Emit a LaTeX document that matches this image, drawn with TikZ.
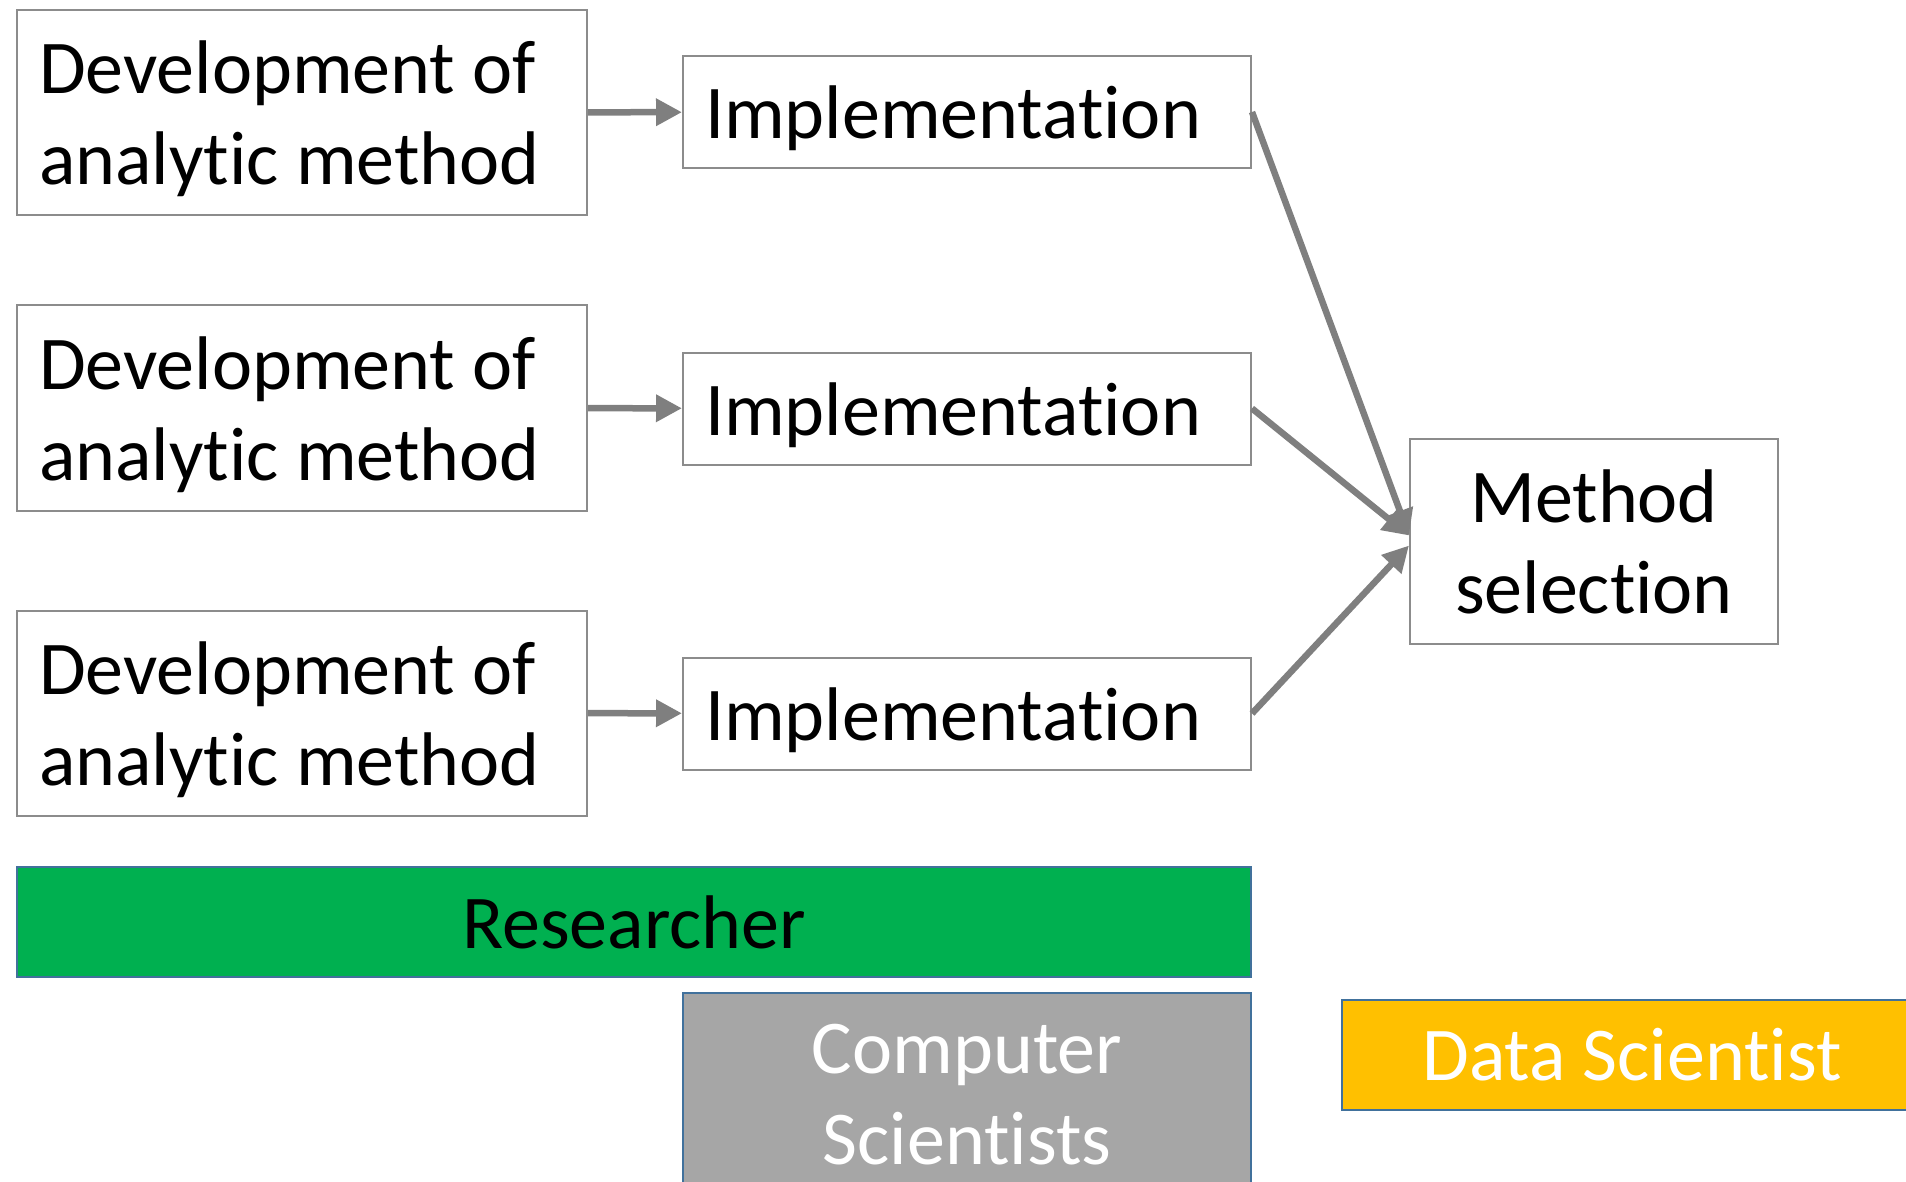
\documentclass[tikz,border=0pt]{standalone}
\usepackage{fontspec}
\setmainfont{Carlito}[Ligatures=NoCommon]
\usetikzlibrary{arrows.meta}

\definecolor{arrowgray}{HTML}{7F7F7F}
\definecolor{boxgray}{HTML}{8C8C8C}
\definecolor{roleblue}{HTML}{41719C}
\definecolor{resgreen}{HTML}{00B050}
\definecolor{csgray}{HTML}{A6A6A6}
\definecolor{dsyellow}{HTML}{FFC000}

\newcommand{\topstrut}{\rule{0pt}{66pt}}

\tikzset{
  flow/.style={draw=arrowgray,line width=6.5pt,-{Triangle[length=26pt,width=26pt]}},
  stepbox/.style={text width=#1,inner xsep=22pt,align=flush left,execute at begin node=\topstrut}
}

\begin{document}
\begin{tikzpicture}[x=1pt,y=-1pt]
\useasboundingbox (0,0) rectangle (1906,1182);
\clip (0,0) rectangle (1906,1182);

\begin{scope}[every node/.style={draw=boxgray,line width=2pt,inner ysep=0pt,font=\fontsize{76}{91}\selectfont}]
\node[stepbox=526pt,minimum height=205] (dev1) at (302,112.5) {Development of\\analytic method};
\node[stepbox=526pt,minimum height=205] (dev2) at (302,408) {Development of\\analytic method};
\node[stepbox=526pt,minimum height=205] (dev3) at (302,713) {Development of\\analytic method};
\node[stepbox=524pt,minimum height=112] (impl1) at (967,112) {Implementation};
\node[stepbox=524pt,minimum height=112] (impl2) at (967,408.5) {Implementation};
\node[stepbox=524pt,minimum height=112] (impl3) at (967,713.5) {Implementation};
\node[minimum width=368,minimum height=205,align=center] (select) at (1594,541.5) {Method\\selection};
\end{scope}

\begin{scope}[every node/.style={draw=roleblue,line width=2.5pt,inner sep=0pt,font=\fontsize{76}{91}\selectfont,align=center}]
\node[fill=resgreen,minimum width=1234,minimum height=110] (res) at (634,922) {Researcher};
\node[fill=csgray,text=white,minimum width=568,minimum height=204] (cs) at (967,1095) {Computer\\Scientists};
\node[fill=dsyellow,text=white,minimum width=580,minimum height=110] (ds) at (1632,1055) {Data Scientist};
\end{scope}

\path
(dev1) edge[flow] (impl1)
(dev2) edge[flow] (impl2)
(dev3) edge[flow] (impl3)
(impl1.east) edge[flow] ([yshift=6pt]select.west)
(impl2.east) edge[flow] ([yshift=6pt]select.west)
(impl3.east) edge[flow] ([yshift=-4pt]select.west);
\end{tikzpicture}
\end{document}
